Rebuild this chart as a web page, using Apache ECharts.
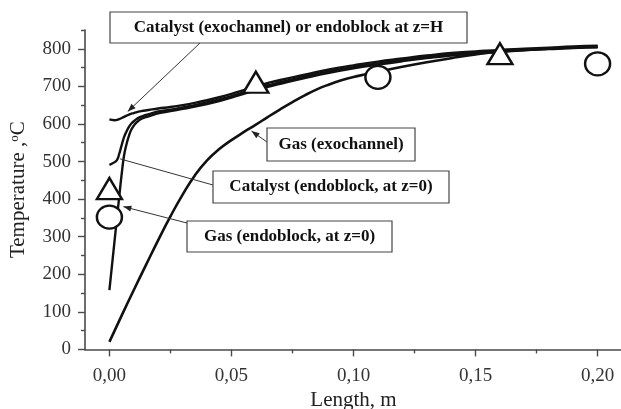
<!DOCTYPE html>
<html>
<head>
<meta charset="utf-8">
<script src="https://cdn.jsdelivr.net/npm/echarts@6/dist/echarts.min.js"></script>
<style>
  html, body { margin: 0; padding: 0; background: #fff; }
  #chart { width: 621px; height: 409px; }
</style>
</head>
<body>
<div id="chart"></div>
<script>
// Axis ticks
const xTicks = [0, 0.05, 0.10, 0.15, 0.20];
const xMinorTicks = [0.025, 0.075, 0.125, 0.175];
const yTicks = [0, 100, 200, 300, 400, 500, 600, 700, 800];
const yMinorTicks = [50, 150, 250, 350, 450, 550, 650, 750, 850];

// Catalyst (exochannel) or endoblock at z=H
const catExoX = [0, 0.002, 0.004, 0.006, 0.008, 0.010, 0.013, 0.016, 0.020, 0.025, 0.030, 0.035, 0.040, 0.045, 0.050, 0.055, 0.060, 0.065, 0.070, 0.080, 0.090, 0.100, 0.110, 0.120, 0.130, 0.140, 0.150, 0.160, 0.170, 0.180, 0.190, 0.200];
const catExoT = [612, 610, 613, 619, 625, 629, 634, 637, 641, 645, 650, 656, 663, 671, 680, 690, 700, 709, 717, 731, 745, 756, 766, 774, 782, 789, 793, 797, 800, 803, 806, 808];

// Catalyst (endoblock, at z=0)
const catEndoX = [0, 0.0015, 0.003, 0.004, 0.005, 0.006, 0.007, 0.008, 0.009, 0.0105, 0.0125, 0.015, 0.0175, 0.020, 0.025, 0.030, 0.035, 0.040, 0.045, 0.050, 0.055, 0.060, 0.065, 0.070, 0.080, 0.090, 0.100, 0.110, 0.120, 0.130, 0.140, 0.150, 0.160, 0.170, 0.180, 0.190, 0.200];
const catEndoT = [491, 496, 503, 520, 543, 565, 580, 592, 601, 610, 618, 624, 629, 633, 638, 644, 650, 657, 665, 674, 684, 694, 703, 711, 726, 740, 751, 761, 770, 778, 785, 790, 794, 798, 801, 804, 806];

// Gas (endoblock, at z=0)
const gasEndoX = [0, 0.001, 0.002, 0.003, 0.004, 0.005, 0.006, 0.007, 0.008, 0.009, 0.0105, 0.012, 0.014, 0.017, 0.020, 0.025, 0.030, 0.035, 0.040, 0.045, 0.050, 0.055, 0.060, 0.065, 0.070, 0.080, 0.090, 0.100, 0.110, 0.120, 0.130, 0.140, 0.150, 0.160, 0.170, 0.180, 0.190, 0.200];
const gasEndoT = [158, 220, 282, 344, 405, 465, 516, 546, 568, 585, 600, 609, 616, 622, 628, 634, 640, 646, 653, 661, 670, 680, 690, 699, 707, 722, 736, 748, 758, 767, 775, 782, 787, 792, 796, 799, 802, 804];

// Gas (exochannel)
const gasExoX = [0, 0.005, 0.010, 0.015, 0.020, 0.025, 0.030, 0.035, 0.040, 0.045, 0.050, 0.055, 0.060, 0.065, 0.070, 0.075, 0.080, 0.085, 0.090, 0.095, 0.100, 0.105, 0.110, 0.120, 0.130, 0.140, 0.150, 0.160, 0.170, 0.180, 0.190, 0.200];
const gasExoT = [20, 90, 158, 225, 291, 354, 412, 463, 503, 533, 557, 578, 598, 619, 639, 658, 676, 692, 705, 716, 725, 732, 739, 752, 764, 775, 785, 793, 797, 800, 803, 805];

// Measured points
const triX = [0, 0.06, 0.16];
const triT = [428, 711, 787];
const circX = [0, 0.11, 0.20];
const circT = [352, 724, 760];

// Annotation texts and the data points their pointers aim at
const noteTexts = [
  'Catalyst (exochannel) or endoblock at z=H',
  'Gas (exochannel)',
  'Catalyst (endoblock, at z=0)',
  'Gas (endoblock, at z=0)'
];
const noteTargets = [[0.0075, 633], [0.0582, 581], [0.0044, 507], [0.0057, 380]];

const SERIF = '"Liberation Serif", "Times New Roman", serif';
const AXIS_COLOR = '#4a4a4a';
const LINE_COLOR = '#111';

function zip(xs, ys) { return xs.map((x, i) => [x, ys[i]]); }
const fmtX = v => v.toFixed(2).replace('.', ',');

function curve(name, xs, ys, width) {
  return {
    name, type: 'line', data: zip(xs, ys),
    showSymbol: false, smooth: 0.5,
    lineStyle: { color: LINE_COLOR, width },
    z: 2, silent: true
  };
}

const chart = echarts.init(document.getElementById('chart'), null, { renderer: 'canvas' });

const baseX = {
  type: 'value', min: -0.01, max: 0.21, position: 'bottom',
  splitLine: { show: false }
};
const baseY = {
  type: 'value', min: 0, max: 850, position: 'left',
  splitLine: { show: false }
};

chart.setOption({
  animation: false,
  grid: { left: 85, top: 30, width: 537, height: 319.4, containLabel: false, outerBoundsMode: 'none' },
  xAxis: [
    Object.assign({}, baseX, {
      name: 'Length, m', nameLocation: 'middle', nameGap: 40,
      nameTextStyle: { fontFamily: SERIF, fontSize: 21, color: '#222' },
      axisLine: { show: true, onZero: false, lineStyle: { color: AXIS_COLOR, width: 1.6 } },
      axisTick: { show: true, inside: false, length: 7, customValues: xTicks, lineStyle: { color: AXIS_COLOR, width: 1.4 } },
      axisLabel: { customValues: xTicks, formatter: fmtX, margin: 17, fontFamily: SERIF, fontSize: 19, color: '#333' }
    }),
    Object.assign({}, baseX, {
      axisLine: { show: false, onZero: false },
      axisTick: { show: true, inside: false, length: 4, customValues: xMinorTicks, lineStyle: { color: AXIS_COLOR, width: 1.4 } },
      axisLabel: { show: false }
    })
  ],
  yAxis: [
    Object.assign({}, baseY, {
      name: 'Temperature ,{s|o}C', nameLocation: 'middle', nameGap: 56,
      nameTextStyle: {
        fontFamily: SERIF, fontSize: 21, color: '#222',
        rich: { s: { fontFamily: SERIF, fontSize: 13, color: '#222', verticalAlign: 'top' } }
      },
      axisLine: { show: true, onZero: false, lineStyle: { color: AXIS_COLOR, width: 1.6 } },
      axisTick: { show: true, inside: false, length: 7, customValues: yTicks, lineStyle: { color: AXIS_COLOR, width: 1.4 } },
      axisLabel: { customValues: yTicks, margin: 14, fontFamily: SERIF, fontSize: 19, color: '#333' }
    }),
    Object.assign({}, baseY, {
      axisLine: { show: false, onZero: false },
      axisTick: { show: true, inside: false, length: 4, customValues: yMinorTicks, lineStyle: { color: AXIS_COLOR, width: 1.4 } },
      axisLabel: { show: false }
    })
  ],
  series: [
    curve('Gas (exochannel)', gasExoX, gasExoT, 2.6),
    curve('Gas (endoblock, at z=0)', gasEndoX, gasEndoT, 2.4),
    curve('Catalyst (endoblock, at z=0)', catEndoX, catEndoT, 2.4),
    curve('Catalyst (exochannel) or endoblock at z=H', catExoX, catExoT, 2.4),
    {
      name: 'triangles', type: 'scatter', data: zip(triX, triT),
      symbol: 'triangle', symbolSize: [25, 21],
      itemStyle: { color: '#fff', opacity: 1, borderColor: LINE_COLOR, borderWidth: 2.4 },
      z: 5, silent: true
    },
    {
      name: 'circles', type: 'scatter', data: zip(circX, circT),
      symbol: 'circle', symbolSize: [25, 23],
      itemStyle: { color: '#fff', opacity: 1, borderColor: LINE_COLOR, borderWidth: 2.4 },
      z: 5, silent: true
    }
  ]
});

// Annotation boxes with pointers to the curves
const boxes = [
  { x: 110, y: 12, w: 357, h: 31, from: [200, 43], arrow: true },
  { x: 267, y: 128, w: 148, h: 33, from: [267, 142], arrow: true },
  { x: 213, y: 171, w: 236, h: 32, from: [213, 185], arrow: false },
  { x: 187, y: 221, w: 205, h: 31, from: [187, 223], arrow: true }
];

const elements = [];
boxes.forEach((b, i) => {
  const tip = chart.convertToPixel({ seriesIndex: 0 }, noteTargets[i]);
  const [sx, sy] = b.from;
  elements.push({
    type: 'line', z: 20, silent: true,
    shape: { x1: sx, y1: sy, x2: tip[0], y2: tip[1] },
    style: { stroke: '#333', lineWidth: 1 }
  });
  if (b.arrow) {
    const dx = tip[0] - sx, dy = tip[1] - sy;
    const len = Math.hypot(dx, dy);
    const ux = dx / len, uy = dy / len;
    const hl = 8, hw = 3;
    const bx = tip[0] - ux * hl, by = tip[1] - uy * hl;
    elements.push({
      type: 'polygon', z: 20, silent: true,
      shape: { points: [[tip[0], tip[1]], [bx - uy * hw, by + ux * hw], [bx + uy * hw, by - ux * hw]] },
      style: { fill: '#222' }
    });
  }
  elements.push({
    type: 'rect', z: 21, silent: true,
    shape: { x: b.x, y: b.y, width: b.w, height: b.h },
    style: { fill: '#fff', stroke: '#444', lineWidth: 1.2 }
  });
  elements.push({
    type: 'text', z: 22, silent: true,
    style: {
      text: noteTexts[i], x: b.x + b.w / 2, y: b.y + b.h / 2,
      align: 'center', verticalAlign: 'middle',
      fontFamily: SERIF, fontWeight: 'bold', fontSize: 17, fill: '#111'
    }
  });
});
chart.setOption({ graphic: { elements } });
</script>
</body>
</html>
